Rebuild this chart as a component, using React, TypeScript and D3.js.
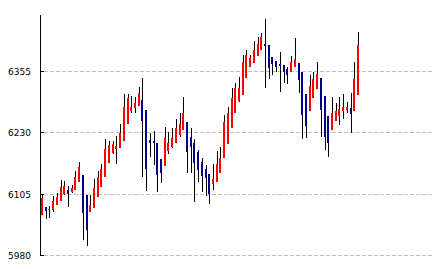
import React from 'react';
import * as d3 from 'd3';

const opens = [6062,6079,6073,6073,6083,6091,6105,6114,6109,6114,6129,6144,6103,6069,6077,6099,6120,6139,6168,6188,6197,6199,6214,6248,6275,6280,6285,6297,6277,6215,6213,6210,6177,6162,6192,6202,6210,6226,6236,6252,6221,6210,6190,6171,6156,6146,6126,6130,6149,6179,6207,6240,6271,6295,6307,6342,6365,6372,6387,6399,6411,6409,6385,6376,6370,6368,6360,6355,6365,6372,6355,6309,6275,6302,6319,6342,6305,6264,6236,6255,6265,6275,6277,6280,6275,6307];
const highs = [6105,6079,6081,6101,6108,6134,6132,6122,6124,6152,6171,6144,6103,6103,6136,6153,6167,6218,6213,6213,6223,6248,6309,6310,6305,6304,6324,6342,6277,6229,6234,6210,6177,6242,6232,6240,6258,6271,6304,6252,6240,6217,6195,6178,6164,6146,6166,6192,6201,6266,6283,6321,6331,6344,6389,6399,6389,6417,6426,6433,6462,6409,6385,6376,6395,6368,6364,6387,6424,6372,6355,6309,6348,6353,6375,6342,6305,6264,6304,6291,6304,6309,6293,6312,6375,6436];
const lows = [6062,6055,6056,6068,6083,6091,6103,6079,6107,6114,6129,6011,5999,6069,6077,6099,6120,6139,6168,6187,6167,6199,6214,6248,6270,6270,6285,6139,6112,6181,6164,6110,6127,6162,6186,6199,6210,6222,6236,6148,6148,6090,6129,6109,6102,6084,6114,6130,6149,6179,6207,6240,6271,6292,6307,6342,6365,6372,6387,6399,6321,6339,6348,6355,6314,6332,6330,6355,6365,6311,6217,6219,6275,6302,6319,6222,6195,6181,6236,6255,6246,6258,6270,6229,6275,6307];
const closes = [6097,6071,6075,6091,6099,6120,6122,6105,6118,6140,6160,6067,6032,6083,6118,6140,6156,6197,6206,6207,6204,6230,6283,6302,6283,6291,6311,6255,6157,6210,6209,6144,6149,6220,6210,6220,6240,6249,6271,6190,6201,6168,6154,6143,6137,6105,6136,6167,6178,6252,6271,6302,6322,6322,6375,6389,6382,6399,6411,6426,6406,6362,6370,6365,6366,6353,6348,6374,6381,6338,6266,6243,6325,6340,6350,6277,6222,6210,6270,6275,6279,6282,6282,6268,6340,6409];
const yTicks = [5980, 6105, 6230, 6355];

export default function App() {
  const W = 433, H = 269;
  const n = opens.length;
  const x = d3.scaleLinear().domain([0, n - 1]).range([41, 357]);
  const y = d3.scaleLinear().domain([5980, 6355]).range([255.5, 71.5]);
  const gy = (v: number) => Math.floor(y(v)) + 0.5;

  return (
    <svg width={W} height={H} style={{ position: 'absolute', left: 0, top: 0, background: '#fff' }}
      shapeRendering="crispEdges">
      {yTicks.map(t => (
        <g key={t}>
          <line x1={44} x2={433} y1={gy(t)} y2={gy(t)} stroke="#c0c0c0" strokeWidth={1} strokeDasharray="4,2" />
          <line x1={40} x2={44} y1={gy(t)} y2={gy(t)} stroke="#000" strokeWidth={1} />
          <text x={31} y={gy(t) + 3.5} textAnchor="end" fontFamily="DejaVu Sans" fontSize={9} fill="#000">{t}</text>
        </g>
      ))}
      <line x1={40.5} x2={40.5} y1={15} y2={256} stroke="#000" strokeWidth={1} />
      {opens.map((o, i) => {
        const c = closes[i];
        const cx = Math.round(x(i));
        const wt = Math.round(y(highs[i]));
        const wb = Math.round(y(lows[i]));
        const bt = Math.round(y(Math.max(o, c)));
        const bb = Math.round(y(Math.min(o, c)));
        const up = c >= o;
        return (
          <g key={i}>
            <rect x={cx + 1} y={wt} width={1} height={Math.max(1, wb - wt)} fill="#000" />
            <rect x={cx} y={bt} width={2} height={Math.max(1, bb - bt)} fill={up ? '#ff0000' : '#00008b'} />
          </g>
        );
      })}
    </svg>
  );
}
